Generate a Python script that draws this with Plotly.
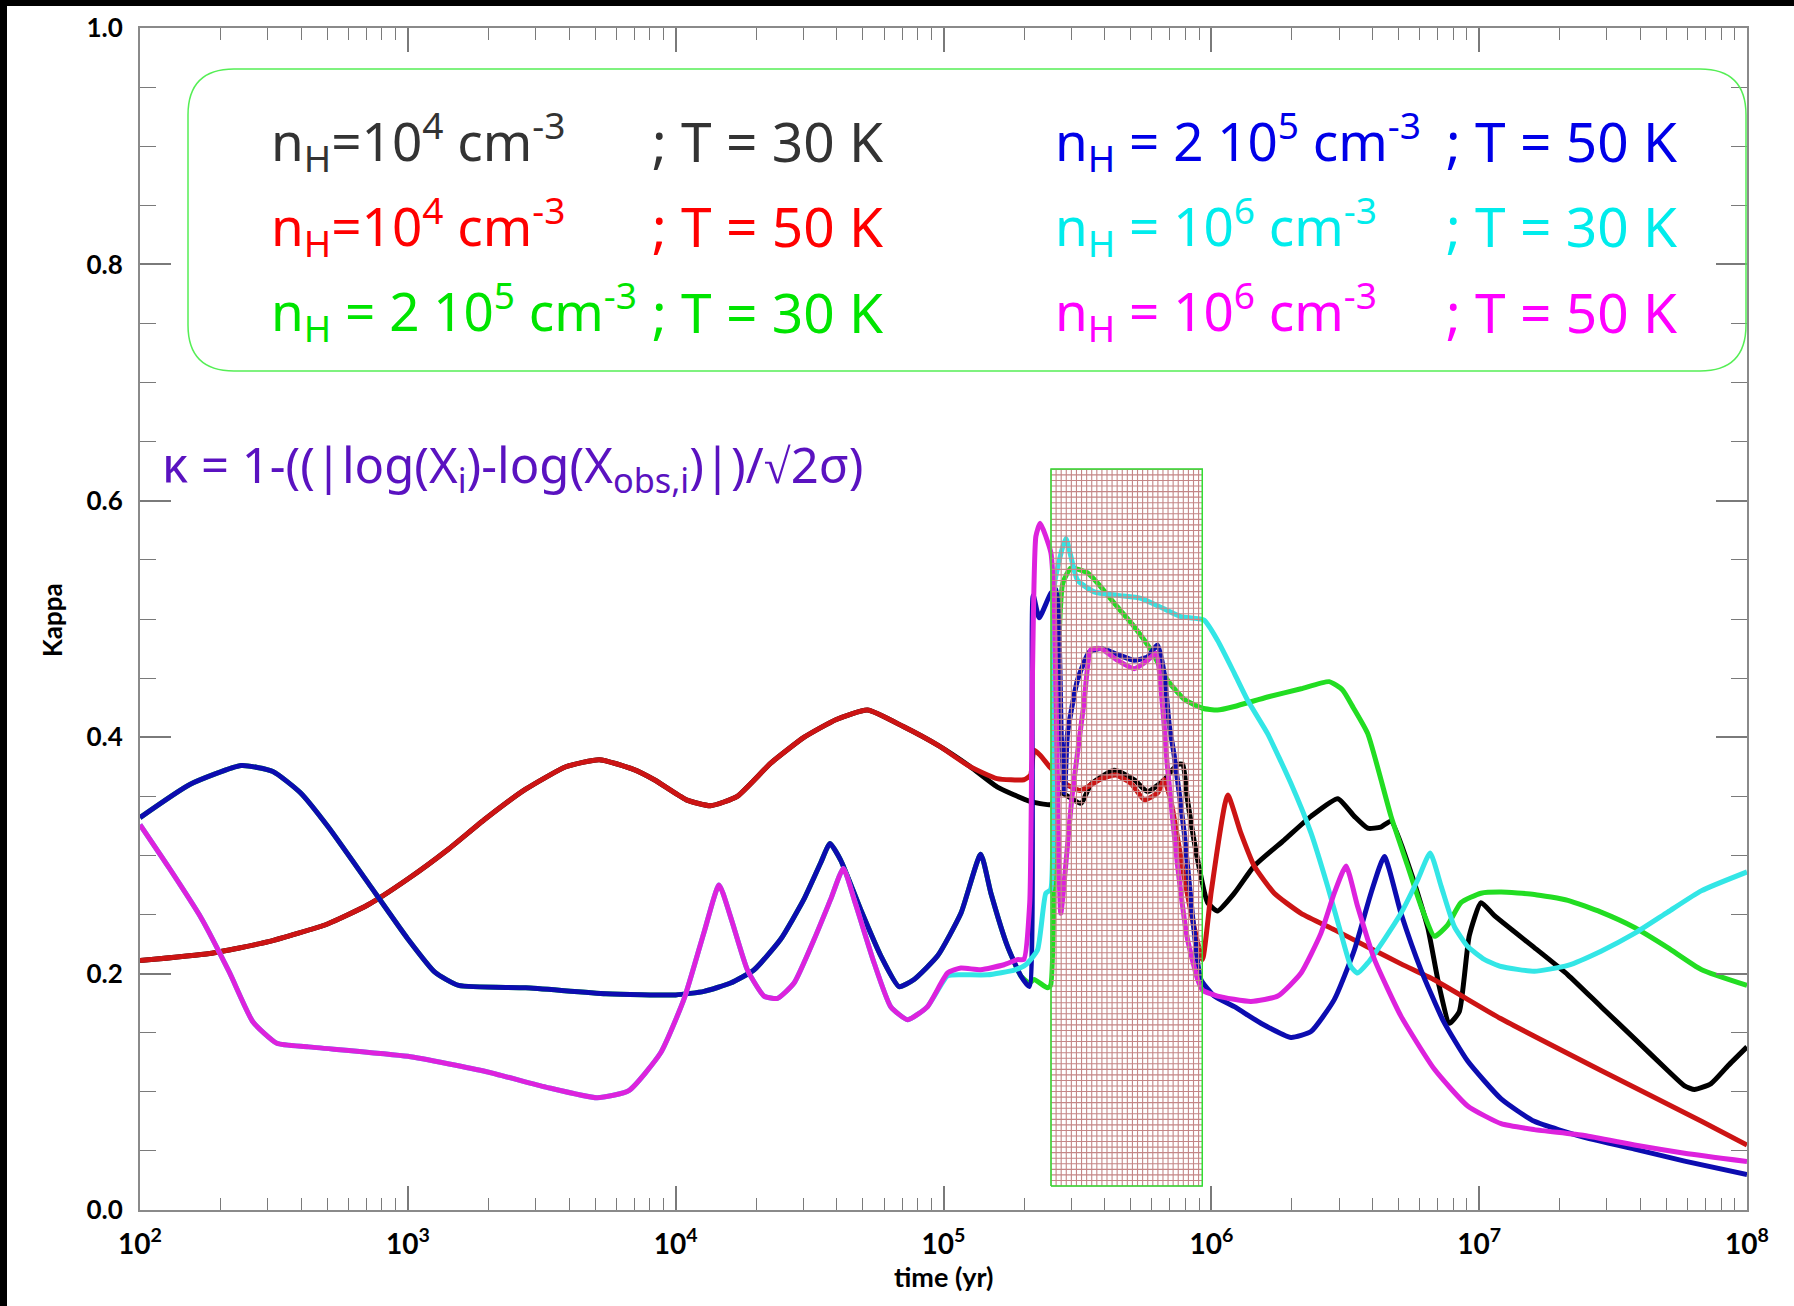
import numpy as np
import plotly.graph_objects as go

# ---------------------------------------------------------------
# Kappa versus time for six (n_H, T) models.  Times are stored as
# log10(t / yr); the figure converts them back to years.
# ---------------------------------------------------------------

# n_H = 1e4 cm^-3, T = 50 K
red_lt = [2.00, 2.26, 2.48, 2.70, 2.85, 3.00, 3.15, 3.29, 3.44, 3.59, 3.715, 3.84,
          3.92, 4.04, 4.13, 4.23, 4.355, 4.48, 4.60, 4.716, 4.85, 4.98, 5.10,
          5.20, 5.30, 5.325, 5.338, 5.36, 5.40, 5.46, 5.51, 5.59, 5.644, 5.70,
          5.75, 5.80, 5.824, 5.85, 5.90, 5.94, 5.967, 6.00, 6.061, 6.11, 6.16,
          6.235, 6.335, 6.46, 6.58, 6.71, 6.83, 7.08, 7.455, 7.83, 8.00]
red_k = [0.211, 0.217, 0.227, 0.242, 0.258, 0.280, 0.305, 0.331, 0.356, 0.375, 0.381, 0.373,
         0.364, 0.347, 0.342, 0.350, 0.378, 0.400, 0.415, 0.423, 0.409, 0.393, 0.375,
         0.365, 0.364, 0.368, 0.389, 0.385, 0.374, 0.360, 0.355, 0.365, 0.368, 0.361,
         0.347, 0.353, 0.364, 0.345, 0.280, 0.235, 0.212, 0.270, 0.351, 0.319, 0.291,
         0.268, 0.251, 0.237, 0.223, 0.208, 0.195, 0.162, 0.118, 0.075, 0.055]

# n_H = 1e4 cm^-3, T = 30 K (runs under the T = 50 K curve up to ~1e5 yr)
black_split = 23
black_lt = red_lt[:black_split] + [
    5.20, 5.32, 5.40, 5.438, 5.513, 5.55, 5.637, 5.712, 5.762, 5.824, 5.874, 5.893,
    5.911, 5.949, 5.986, 6.023, 6.086, 6.160, 6.272, 6.372, 6.472, 6.534, 6.584,
    6.633, 6.671, 6.746, 6.808, 6.85, 6.889, 6.926, 6.963, 7.007, 7.057, 7.206,
    7.331, 7.455, 7.580, 7.704, 7.767, 7.804, 7.866, 7.929, 8.00]
black_k = red_k[:black_split] + [
    0.358, 0.346, 0.343, 0.353, 0.344, 0.360, 0.372, 0.364, 0.354, 0.364, 0.377, 0.377,
    0.347, 0.296, 0.260, 0.253, 0.268, 0.291, 0.313, 0.333, 0.348, 0.333, 0.323,
    0.324, 0.329, 0.285, 0.239, 0.190, 0.158, 0.168, 0.232, 0.260, 0.249, 0.222,
    0.199, 0.172, 0.145, 0.118, 0.105, 0.102, 0.107, 0.122, 0.138]

# n_H = 2e5 cm^-3, T = 50 K
blue_lt = [2.00, 2.186, 2.378, 2.496, 2.599, 2.703, 2.851, 2.998, 3.102, 3.19, 3.44,
           3.74, 4.00, 4.106, 4.205, 4.292, 4.392, 4.479, 4.542, 4.576, 4.616, 4.691,
           4.766, 4.834, 4.890, 4.978, 5.065, 5.139, 5.177, 5.239, 5.289, 5.320,
           5.335, 5.357, 5.401, 5.42, 5.44, 5.452, 5.463, 5.500, 5.544, 5.588, 5.650,
           5.712, 5.762, 5.799, 5.824, 5.843, 5.861, 5.899, 5.930, 5.961, 6.011,
           6.086, 6.185, 6.297, 6.372, 6.459, 6.534, 6.596, 6.646, 6.708, 6.783,
           6.866, 6.957, 7.082, 7.206, 7.393, 7.58, 7.767, 8.00]
blue_k = [0.332, 0.360, 0.376, 0.371, 0.353, 0.324, 0.277, 0.230, 0.201, 0.190, 0.188,
          0.183, 0.182, 0.185, 0.192, 0.203, 0.229, 0.263, 0.294, 0.310, 0.296, 0.254,
          0.215, 0.189, 0.195, 0.215, 0.251, 0.301, 0.268, 0.223, 0.198, 0.189,
          0.520, 0.501, 0.522, 0.525, 0.400, 0.353, 0.403, 0.448, 0.472, 0.475, 0.470,
          0.465, 0.468, 0.478, 0.454, 0.410, 0.385, 0.319, 0.248, 0.195, 0.181,
          0.172, 0.158, 0.146, 0.151, 0.178, 0.220, 0.268, 0.299, 0.251, 0.203,
          0.160, 0.126, 0.094, 0.075, 0.0615, 0.0515, 0.0414, 0.030]

# n_H = 2e5 cm^-3, T = 30 K (runs under the T = 50 K curve at early times)
green_split = 31
green_lt = blue_lt[:green_split] + [
    5.320, 5.338, 5.388, 5.40, 5.42, 5.445, 5.476, 5.538, 5.588, 5.650, 5.712,
    5.774, 5.837, 5.899, 5.967, 6.023, 6.086, 6.210, 6.335, 6.44, 6.49, 6.53,
    6.584, 6.671, 6.733, 6.783, 6.833, 6.882, 6.932, 7.007, 7.082, 7.206, 7.331,
    7.455, 7.580, 7.704, 7.829, 8.00]
green_k = blue_k[:green_split] + [
    0.192, 0.195, 0.188, 0.190, 0.400, 0.530, 0.543, 0.539, 0.527, 0.510, 0.4935,
    0.474, 0.448, 0.432, 0.4245, 0.423, 0.426, 0.434, 0.441, 0.447, 0.440, 0.425,
    0.403, 0.333, 0.291, 0.257, 0.2315, 0.241, 0.260, 0.268, 0.269, 0.267, 0.262,
    0.252, 0.239, 0.222, 0.2035, 0.190]

# n_H = 1e6 cm^-3, T = 50 K
mag_lt = [2.00, 2.11, 2.23, 2.334, 2.422, 2.511, 2.629, 3.00, 3.294, 3.515, 3.707,
          3.825, 3.944, 4.032, 4.106, 4.162, 4.205, 4.268, 4.330, 4.380, 4.442, 4.517,
          4.579, 4.626, 4.666, 4.741, 4.803, 4.866, 4.940, 5.015, 5.065, 5.139,
          5.226, 5.276, 5.30, 5.322, 5.332, 5.345, 5.361, 5.401, 5.415, 5.43, 5.438,
          5.48, 5.525, 5.550, 5.588, 5.650, 5.712, 5.762, 5.793, 5.818, 5.836, 5.874,
          5.911, 5.949, 5.967, 6.023, 6.148, 6.248, 6.335, 6.409, 6.459, 6.503, 6.546,
          6.609, 6.708, 6.833, 6.957, 7.082, 7.206, 7.393, 7.58, 7.767, 8.00]
mag_k = [0.326, 0.289, 0.2465, 0.201, 0.159, 0.141, 0.138, 0.130, 0.117, 0.104, 0.095,
         0.101, 0.133, 0.179, 0.235, 0.275, 0.248, 0.203, 0.181, 0.179, 0.192, 0.229,
         0.263, 0.289, 0.263, 0.209, 0.172, 0.161, 0.172, 0.2005, 0.2047, 0.2033,
         0.2075, 0.2118, 0.212, 0.260, 0.450, 0.570, 0.581, 0.556, 0.500, 0.300, 0.251,
         0.350, 0.430, 0.474, 0.475, 0.465, 0.458, 0.465, 0.471, 0.426, 0.375, 0.291,
         0.229, 0.195, 0.186, 0.181, 0.1765, 0.181, 0.2005, 0.234, 0.268, 0.291, 0.257,
         0.212, 0.164, 0.119, 0.088, 0.073, 0.068, 0.063, 0.055, 0.048, 0.041]

# n_H = 1e6 cm^-3, T = 30 K (runs under the T = 50 K curve at early times)
cyan_split = 29
cyan_lt = mag_lt[:cyan_split] + [
    5.015, 5.065, 5.164, 5.264, 5.307, 5.351, 5.382, 5.40, 5.415, 5.457, 5.500,
    5.5625, 5.650, 5.737, 5.811, 5.886, 5.973, 6.023, 6.086, 6.136, 6.210, 6.297,
    6.372, 6.434, 6.484, 6.521, 6.546, 6.584, 6.646, 6.708, 6.770, 6.817, 6.858,
    6.907, 6.957, 7.019, 7.082, 7.206, 7.331, 7.455, 7.580, 7.704, 7.829, 8.00]
cyan_k = mag_k[:cyan_split] + [
    0.198, 0.199, 0.199, 0.203, 0.2075, 0.220, 0.268, 0.271, 0.530, 0.568, 0.533,
    0.523, 0.520, 0.5175, 0.510, 0.502, 0.499, 0.482, 0.454, 0.431, 0.403, 0.361,
    0.319, 0.274, 0.234, 0.206, 0.2005, 0.209, 0.229, 0.251, 0.279, 0.302, 0.274,
    0.240, 0.223, 0.212, 0.206, 0.202, 0.207, 0.219, 0.234, 0.252, 0.270, 0.286]

# Observed-time window shaded on the plot (yr, kappa)
window_t = [2.52e5, 9.25e5]
window_k = [0.0203, 0.627]

# Axis ticks
x_tick_exp = [2, 3, 4, 5, 6, 7, 8]
y_tick_vals = [0.0, 0.2, 0.4, 0.6, 0.8, 1.0]

# Legend rows: (n_H text, T text, colour)
legend_left = [
    ("n<sub>H</sub>=10<sup>4</sup> cm<sup>-3</sup>", "; T = 30 K", "#333333"),
    ("n<sub>H</sub>=10<sup>4</sup> cm<sup>-3</sup>", "; T = 50 K", "#ff0000"),
    ("n<sub>H</sub> = 2 10<sup>5</sup> cm<sup>-3</sup>", "; T = 30 K", "#00e400"),
]
legend_right = [
    ("n<sub>H</sub> = 2 10<sup>5</sup> cm<sup>-3</sup>", "; T = 50 K", "#0000e8"),
    ("n<sub>H</sub> = 10<sup>6</sup> cm<sup>-3</sup>", "; T = 30 K", "#00ecec"),
    ("n<sub>H</sub> = 10<sup>6</sup> cm<sup>-3</sup>", "; T = 50 K", "#ff00ff"),
]

series = [
    (black_lt, black_k, "#000000"),
    (red_lt, red_k, "#cc1414"),
    (green_lt, green_k, "#22dd22"),
    (blue_lt, blue_k, "#0c0cb0"),
    (cyan_lt, cyan_k, "#33e6e6"),
    (mag_lt, mag_k, "#dd22dd"),
]

W, H = 1794, 1306
ML, MR, MT, MB = 140, 47, 28, 96
PW, PH = W - ML - MR, H - MT - MB


def px_to_paper(x, y):
    return (x - ML) / PW, (H - MB - y) / PH


fig = go.Figure()

for lt, k, col in series:
    fig.add_trace(go.Scatter(
        x=10 ** np.asarray(lt), y=k, mode="lines",
        line=dict(color=col, width=5, shape="spline", smoothing=0.5),
        hoverinfo="skip", showlegend=False))

# Cross-hatched time window drawn over the curves
lt0, lt1 = np.log10(window_t[0]), np.log10(window_t[1])
hx, hy = [], []
for v in np.arange(lt0, lt1 + 1e-9, 0.019):
    hx += [10 ** v, 10 ** v, None]
    hy += [window_k[0], window_k[1], None]
for kk in np.arange(window_k[0], window_k[1] + 1e-9, 0.0047):
    hx += [window_t[0], window_t[1], None]
    hy += [kk, kk, None]
fig.add_trace(go.Scatter(x=hx, y=hy, mode="lines",
                         line=dict(color="#c48686", width=1.1),
                         hoverinfo="skip", showlegend=False))
fig.add_trace(go.Scatter(
    x=[window_t[0], window_t[1], window_t[1], window_t[0], window_t[0]],
    y=[window_k[0], window_k[0], window_k[1], window_k[1], window_k[0]],
    mode="lines", line=dict(color="#33dd33", width=1.5),
    hoverinfo="skip", showlegend=False))

# Rounded legend frame
bx0, by0 = px_to_paper(188, 69)
bx1, by1 = px_to_paper(1746, 371)
rx, ry = 46 / PW, 46 / PH
path = (f"M {bx0 + rx},{by0} L {bx1 - rx},{by0} Q {bx1},{by0} {bx1},{by0 - ry} "
        f"L {bx1},{by1 + ry} Q {bx1},{by1} {bx1 - rx},{by1} "
        f"L {bx0 + rx},{by1} Q {bx0},{by1} {bx0},{by1 + ry} "
        f"L {bx0},{by0 - ry} Q {bx0},{by0} {bx0 + rx},{by0} Z")
shapes = [dict(type="path", xref="paper", yref="paper", path=path,
               line=dict(color="#55ee55", width=1.5), layer="above")]

# Dark frame along the left and top edges of the image
lx0, _ = px_to_paper(0, 0)
lx1, _ = px_to_paper(7, 0)
rxe, _ = px_to_paper(W, 0)
_, ty0 = px_to_paper(0, 0)
_, ty1 = px_to_paper(0, 6)
_, byb = px_to_paper(0, H)
shapes.append(dict(type="rect", xref="paper", yref="paper", x0=lx0, x1=lx1,
                   y0=byb, y1=ty0, fillcolor="black", line=dict(width=0)))
shapes.append(dict(type="rect", xref="paper", yref="paper", x0=lx0, x1=rxe,
                   y0=ty1, y1=ty0, fillcolor="black", line=dict(width=0)))

annotations = []
legend_font = "Noto Sans"
fs = 53
row_y = [141, 226, 311]
for i, (nh, tt, col) in enumerate(legend_left):
    ax, ay = px_to_paper(269, row_y[i])
    annotations.append(dict(x=ax, y=ay, xref="paper", yref="paper", text=nh,
                            xanchor="left", yanchor="middle", showarrow=False,
                            font=dict(family=legend_font, size=fs, color=col)))
    ax, ay = px_to_paper(650, row_y[i])
    annotations.append(dict(x=ax, y=ay, xref="paper", yref="paper", text=tt,
                            xanchor="left", yanchor="middle", showarrow=False,
                            font=dict(family=legend_font, size=fs + 2, color=col)))
for i, (nh, tt, col) in enumerate(legend_right):
    ax, ay = px_to_paper(1053, row_y[i])
    annotations.append(dict(x=ax, y=ay, xref="paper", yref="paper", text=nh,
                            xanchor="left", yanchor="middle", showarrow=False,
                            font=dict(family=legend_font, size=fs, color=col)))
    ax, ay = px_to_paper(1444, row_y[i])
    annotations.append(dict(x=ax, y=ay, xref="paper", yref="paper", text=tt,
                            xanchor="left", yanchor="middle", showarrow=False,
                            font=dict(family=legend_font, size=fs + 2, color=col)))

fx, fy = px_to_paper(160, 467)
annotations.append(dict(
    x=fx, y=fy, xref="paper", yref="paper", xanchor="left", yanchor="middle",
    showarrow=False,
    text="κ = 1-((|log(X<sub>i</sub>)-log(X<sub>obs,i</sub>)|)/√2σ)",
    font=dict(family=legend_font, size=49, color="#5a12c0")))

# Axis titles
kx, ky = px_to_paper(52, 620)
annotations.append(dict(x=kx, y=ky, xref="paper", yref="paper", text="Kappa",
                        textangle=-90, showarrow=False, xanchor="center", yanchor="middle",
                        font=dict(family="Lato", size=26, color="black", weight=700)))
tx, ty = px_to_paper(943, 1276)
annotations.append(dict(x=tx, y=ty, xref="paper", yref="paper", text="time (yr)",
                        showarrow=False, xanchor="center", yanchor="middle",
                        font=dict(family="Lato", size=27, color="black", weight=700)))

axis_common = dict(showline=True, linecolor="#8a8a8a", linewidth=2,
                   ticks="inside", tickcolor="#7a7a7a", tickwidth=1.5,
                   mirror="allticks", showgrid=False, zeroline=False)

fig.update_xaxes(
    type="log", range=[2, 8],
    tickvals=[10 ** e for e in x_tick_exp],
    ticktext=[f"10<sup>{e}</sup>" for e in x_tick_exp],
    ticklen=24, ticklabelstandoff=8,
    tickfont=dict(family="Lato", size=28, color="black", weight=700),
    minor=dict(ticks="inside", ticklen=12, tickwidth=1.2, tickcolor="#7a7a7a", dtick="D1"),
    **axis_common)
fig.update_yaxes(
    range=[0, 1], tickvals=y_tick_vals,
    ticktext=[f"{v:.1f}" for v in y_tick_vals],
    ticklen=31, ticklabelstandoff=10,
    tickfont=dict(family="Lato", size=26, color="black", weight=700),
    minor=dict(ticks="inside", ticklen=16, tickwidth=1.2, tickcolor="#7a7a7a", dtick=0.05),
    **axis_common)

fig.update_layout(
    width=W, height=H,
    margin=dict(l=ML, r=MR, t=MT, b=MB, autoexpand=False),
    paper_bgcolor="white", plot_bgcolor="white",
    shapes=shapes, annotations=annotations, showlegend=False)

fig.write_html("out.html")
